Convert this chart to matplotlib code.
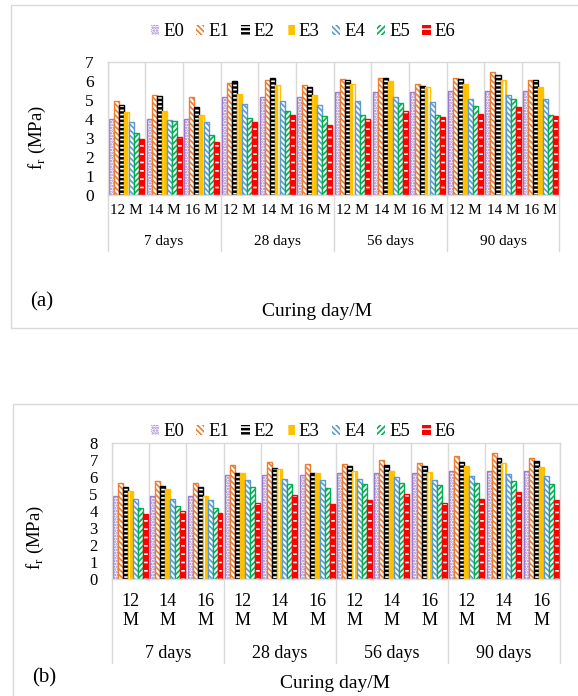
import matplotlib.pyplot as plt
import matplotlib.transforms as mtransforms
from matplotlib.patches import Rectangle
import numpy as np

plt.rcParams['font.family'] = ['Liberation Serif', 'DejaVu Serif']
plt.rcParams['hatch.linewidth'] = 1.2

series_names = ['E0', 'E1', 'E2', 'E3', 'E4', 'E5', 'E6']
curing_days = ['7 days', '28 days', '56 days', '90 days']
moulds = ['12 M', '14 M', '16 M']

# flexural strength (MPa), order: 7d 12M/14M/16M, 28d ..., 56d ..., 90d ...
a_E0 = [4.00, 4.00, 4.00, 5.18, 5.18, 5.18, 5.43, 5.43, 5.43, 5.47, 5.47, 5.47]
a_E1 = [4.96, 5.25, 5.15, 5.87, 6.06, 5.78, 6.10, 6.15, 5.82, 6.17, 6.45, 6.06]
a_E2 = [4.75, 5.22, 4.62, 6.01, 6.17, 5.66, 6.06, 6.15, 5.75, 6.10, 6.29, 6.06]
a_E3 = [4.39, 4.43, 4.22, 5.33, 5.80, 5.24, 5.83, 6.01, 5.68, 5.85, 6.05, 5.69]
a_E4 = [3.83, 3.95, 3.85, 4.80, 4.96, 4.73, 4.96, 5.17, 4.87, 5.03, 5.25, 5.03]
a_E5 = [3.27, 3.88, 3.18, 4.04, 4.41, 4.18, 4.20, 4.85, 4.20, 4.66, 5.03, 4.22]
a_E6 = [2.93, 3.04, 2.81, 3.83, 4.22, 3.66, 4.00, 4.43, 4.10, 4.24, 4.64, 4.18]

b_E0 = [4.90, 4.90, 4.90, 6.14, 6.14, 6.14, 6.22, 6.22, 6.22, 6.35, 6.35, 6.35]
b_E1 = [5.63, 5.78, 5.67, 6.71, 6.86, 6.76, 6.78, 7.02, 6.82, 7.24, 7.39, 7.14]
b_E2 = [5.41, 5.49, 5.39, 6.25, 6.53, 6.25, 6.67, 6.71, 6.67, 6.90, 7.10, 6.94]
b_E3 = [5.18, 5.29, 4.88, 6.25, 6.45, 6.24, 6.33, 6.37, 6.29, 6.65, 6.84, 6.61]
b_E4 = [4.69, 4.71, 4.65, 5.82, 5.90, 5.82, 5.88, 6.02, 5.84, 6.06, 6.18, 6.06]
b_E5 = [4.20, 4.31, 4.20, 5.43, 5.59, 5.35, 5.59, 5.65, 5.51, 5.65, 5.75, 5.59]
b_E6 = [3.84, 4.02, 3.90, 4.49, 4.94, 4.41, 4.65, 4.98, 4.47, 4.73, 5.12, 4.65]

colors = ['#9B7BCF', '#ED7D31', '#000000', '#FFC000', '#5B9BD5', '#00B050', '#FF0000']
# (face colour, hatch colour, hatch) for each series
fills = [
    ('white', '#9B7BCF', '......'),
    ('white', '#ED7D31', '\\\\\\\\\\\\'),
    ('#000000', 'white', '----'),
    ('#FFC000', 'white', '||'),
    ('white', '#5B9BD5', '\\\\\\\\\\\\'),
    ('white', '#00B050', '//////'),
    ('#FF0000', 'white', '--'),
]
GRAY = '#D9D9D9'

W, H = 578, 696
fig = plt.figure(figsize=(W / 100, H / 100), dpi=100)


def fx(px):
    return px / W


def fy(py):
    return 1 - py / H


def draw_panel(ax, data, ymax, sub_labels, sub_y, grp_y, sep_y, lab_size, tick_size):
    w = 0.133
    x = np.arange(12)
    for i, vals in enumerate(data):
        pos = x + (i - 3) * w
        face, hcol, hatch = fills[i]
        ax.bar(pos, vals, w, facecolor=face, edgecolor=hcol, hatch=hatch,
               linewidth=0, label=series_names[i])
        ax.bar(pos, vals, w, facecolor='none', edgecolor=colors[i], linewidth=1.0)
    ax.set_xlim(-0.5, 11.5)
    ax.set_ylim(0, ymax)
    ax.set_yticks(range(ymax + 1))
    ax.set_xticks([])
    ax.set_xticks(np.arange(-0.5, 12), minor=True)
    ax.grid(which='minor', axis='x', color=GRAY, linewidth=1)
    ax.set_axisbelow(True)
    ax.tick_params(axis='y', length=0, pad=10, labelsize=tick_size)
    ax.tick_params(axis='x', which='both', length=0)
    for s in ax.spines.values():
        s.set_color(GRAY)
        s.set_linewidth(1)

    trans = mtransforms.blended_transform_factory(ax.transData, ax.transAxes)
    for c in range(12):
        ax.text(c, sub_y, sub_labels[c % 3], transform=trans, ha='center', va='center',
                fontsize=lab_size, linespacing=1.1)
    for g, name in enumerate(curing_days):
        ax.text(g * 3 + 1, grp_y, name, transform=trans, ha='center', va='center',
                fontsize=lab_size)
        ax.plot([g * 3 - 0.5] * 2, [0, sep_y], transform=trans, color=GRAY, lw=1, clip_on=False)
    ax.plot([11.5] * 2, [0, sep_y], transform=trans, color=GRAY, lw=1, clip_on=False)


# panel frames
fig.add_artist(Rectangle((fx(11), fy(328)), 1.0, (328 - 5) / H, transform=fig.transFigure,
                         fill=False, edgecolor=GRAY, lw=1))
fig.add_artist(Rectangle((fx(13), fy(720)), 1.0, (720 - 404) / H, transform=fig.transFigure,
                         fill=False, edgecolor=GRAY, lw=1))

# (a)
ax_a = fig.add_axes([fx(107.6), fy(195), (559.5 - 107.6) / W, 133 / H])
draw_panel(ax_a, [a_E0, a_E1, a_E2, a_E3, a_E4, a_E5, a_E6], 7, moulds,
           (195 - 211) / 133, (195 - 242) / 133, (195 - 251) / 133, 11, 12.5)

# (b)
ax_b = fig.add_axes([fx(111.7), fy(579), (560 - 111.7) / W, 136 / H])
draw_panel(ax_b, [b_E0, b_E1, b_E2, b_E3, b_E4, b_E5, b_E6], 8,
           [m.replace(' ', '\n') for m in moulds],
           (579 - 611) / 136, (579 - 653) / 136, (579 - 663) / 136, 13, 12)

for ax, ly in [(ax_a, 32), (ax_b, 432)]:
    h, l = ax.get_legend_handles_labels()
    fig.legend(h, l, loc='center', bbox_to_anchor=(fx(303), fy(ly)), ncol=7, frameon=False,
               fontsize=13.5, handlelength=0.45, handleheight=0.5, handletextpad=0.2,
               columnspacing=0.65, borderaxespad=0, borderpad=0)

ylab = 'f$_\\mathregular{r}$ (MPa)'
fig.text(fx(37), fy(137), ylab, rotation=90, ha='center', va='center', fontsize=13.5)
fig.text(fx(35), fy(537), ylab, rotation=90, ha='center', va='center', fontsize=13.5)

fig.text(fx(42), fy(302), '(a)', ha='center', va='center', fontsize=15)
fig.text(fx(44), fy(678), '(b)', ha='center', va='center', fontsize=15)
fig.text(fx(317), fy(312), 'Curing day/M', ha='center', va='center', fontsize=14)
fig.text(fx(335), fy(683), 'Curing day/M', ha='center', va='center', fontsize=14)

fig.savefig('out.png', dpi=100)
